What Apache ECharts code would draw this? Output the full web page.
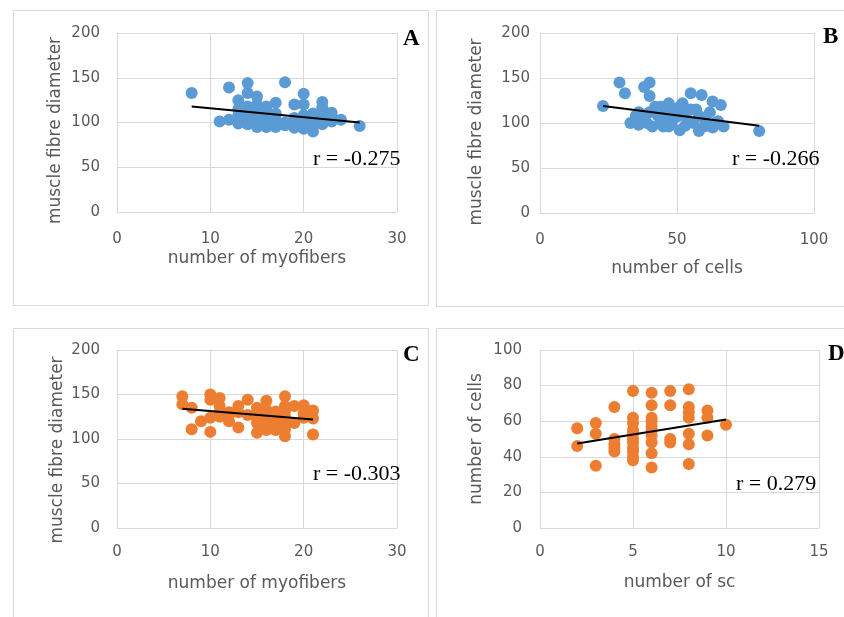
<!DOCTYPE html>
<html>
<head>
<meta charset="utf-8">
<title>scatter panels</title>
<script src="https://cdn.jsdelivr.net/npm/echarts@6/dist/echarts.min.js"></script>
<style>
	html,body{margin:0;padding:0;background:#fff;}
	#main{width:844px;height:617px;}
</style>
</head>
<body>
<div id="main"></div>
<script>
	// A: myofibers vs fibre diameter (blue)
	var pointsA = [[8,133],[11,101],[12,103],[12,139],[13,99],[13,125],[13,115],[13,108],[14,144],[14,133],[14,118],[14,110],[14,103],[14,98],[15,129],[15,120],[15,112],[15,105],[15,95],[16,118],[16,112],[16,106],[16,102],[16,95],[17,122],[17,110],[17,103],[17,95],[18,145],[18,100],[18,97],[19,120],[19,105],[19,100],[19,94],[20,132],[20,120],[20,108],[20,100],[20,93],[21,110],[21,104],[21,98],[21,90],[22,123],[22,117],[22,108],[22,103],[22,98],[23,111],[23,105],[23,101],[24,103],[26,96]];
	var trendA = [[8,118],[26,100]];

	// B: cells vs fibre diameter (blue)
	var pointsB = [[23,119],[29,145],[31,133],[33,100],[35,108],[36,98],[36,112],[37,110],[38,140],[38,105],[39,100],[40,145],[40,130],[40,112],[41,96],[42,118],[43,108],[44,118],[44,100],[45,96],[45,103],[46,112],[47,122],[47,104],[47,96],[48,100],[49,115],[50,107],[51,92],[51,118],[52,122],[53,110],[53,97],[54,103],[55,133],[55,115],[56,100],[57,115],[58,91],[58,108],[59,131],[60,105],[60,96],[61,98],[62,112],[63,124],[63,95],[64,100],[65,102],[66,120],[67,96],[80,91]];
	var trendB = [[23,119],[80,97]];

	// C: myofibers vs fibre diameter (orange)
	var pointsC = [[7,148],[7,139],[8,135],[8,111],[9,120],[10,150],[10,144],[10,124],[10,108],[11,146],[11,137],[11,130],[11,125],[12,130],[12,127],[12,120],[13,137],[13,130],[13,113],[14,144],[14,127],[15,135],[15,130],[15,124],[15,118],[15,107],[16,143],[16,133],[16,129],[16,125],[16,120],[16,113],[16,110],[17,131],[17,125],[17,120],[17,118],[17,115],[17,110],[18,148],[18,137],[18,131],[18,125],[18,120],[18,111],[18,103],[19,137],[19,118],[20,138],[20,129],[20,124],[21,132],[21,123],[21,105]];
	var trendC = [[7,134],[21,122]];

	// D: sc vs cells (orange)
	var pointsD = [[2,56],[2,46],[3,59],[3,53],[3,35],[4,68],[4,50],[4,47],[4,45],[4,43],[5,77],[5,62],[5,59],[5,55],[5,53],[5,50],[5,48],[5,45],[5,43],[5,40],[5,38],[6,76],[6,69],[6,62],[6,60],[6,57],[6,55],[6,52],[6,48],[6,42],[6,34],[7,77],[7,69],[7,50],[7,48],[8,78],[8,68],[8,65],[8,62],[8,53],[8,47],[8,36],[9,66],[9,62],[9,52],[10,58]];
	var trendD = [[2,47.5],[10,61]];

	var rLabels = ['r = -0.275', 'r = -0.266', 'r = -0.303', 'r = 0.279'];
	var panelLetters = ['A', 'B', 'C', 'D'];
	var xNames = ['number of myofibers', 'number of cells', 'number of myofibers', 'number of sc'];
	var yNames = ['muscle fibre diameter', 'muscle fibre diameter', 'muscle fibre diameter', 'number of cells'];
	var xMax = [30, 100, 30, 15];
	var xStep = [10, 50, 10, 5];
	var yMax = [200, 200, 200, 100];
	var yStep = [50, 50, 50, 20];

	var blue = '#5b9bd5';
	var orange = '#ed7d31';
	var grey = '#595959';
	var gridLine = '#d9d9d9';

	// plot areas and per-panel label offsets
	var grids = [
		{left: 117, top: 33, width: 280, height: 179},
		{left: 540, top: 33, width: 274, height: 180},
		{left: 117, top: 350, width: 280, height: 178},
		{left: 540, top: 350, width: 279, height: 178}
	];
	var yLabelMargin = [17, 10, 17, 18];
	var xLabelMargin = [20, 20, 17, 17];
	var xNameGap = [38, 47, 47, 46];
	var yNameGap = [53, 55, 51, 55];
	var yNameShift = [8, 9, 11, 0];

	var xAxes = [], yAxes = [], series = [];
	var allPoints = [pointsA, pointsB, pointsC, pointsD];
	var allTrends = [trendA, trendB, trendC, trendD];
	var colors = [blue, blue, orange, orange];

	for (let i = 0; i < 4; i++) {
		xAxes.push({
			type: 'value', gridIndex: i, min: 0, max: xMax[i], interval: xStep[i],
			name: xNames[i], nameLocation: 'middle', nameGap: xNameGap[i],
			nameTextStyle: {color: grey, fontFamily: 'DejaVu Sans', fontSize: 17},
			axisLine: {show: true, lineStyle: {color: gridLine}},
			axisTick: {show: false},
			axisLabel: {color: grey, fontFamily: 'DejaVu Sans', fontSize: 15, margin: xLabelMargin[i]},
			splitLine: {show: true, lineStyle: {color: gridLine, width: 1}}
		});
		yAxes.push({
			type: 'value', gridIndex: i, min: 0, max: yMax[i], interval: yStep[i],
			name: yNames[i], nameLocation: 'middle', nameGap: yNameGap[i],
			nameTextStyle: {color: grey, fontFamily: 'DejaVu Sans', fontSize: 17,
				padding: [0, yNameShift[i] * 2, 0, 0]},
			axisLine: {show: true, lineStyle: {color: gridLine}},
			axisTick: {show: false},
			axisLabel: {color: grey, fontFamily: 'DejaVu Sans', fontSize: 15, margin: yLabelMargin[i]},
			splitLine: {show: true, lineStyle: {color: gridLine, width: 1}}
		});
		series.push({
			type: 'scatter', xAxisIndex: i, yAxisIndex: i,
			data: allPoints[i], symbolSize: 12,
			itemStyle: {color: colors[i], opacity: 1},
			z: 2
		});
		series.push({
			type: 'line', xAxisIndex: i, yAxisIndex: i,
			data: allTrends[i], symbol: 'none',
			lineStyle: {color: '#000', width: 2},
			z: 3
		});
	}

	// frames, r values and panel letters
	var frames = [[13.5, 10.5, 415, 295], [436.5, 10.5, 420, 296], [13.5, 328.5, 415, 300], [436.5, 328.5, 420, 300]];
	var rPos = [[313, 159], [732, 159], [313, 474], [736, 484]];
	var letterPos = [[403, 39], [823, 37], [403, 355], [828, 354]];
	var graphics = [];
	for (let i = 0; i < 4; i++) {
		graphics.push({
			type: 'rect', silent: true, z: -1,
			shape: {x: frames[i][0], y: frames[i][1], width: frames[i][2], height: frames[i][3]},
			style: {fill: null, stroke: gridLine, lineWidth: 1}
		});
		graphics.push({
			type: 'text', x: rPos[i][0], y: rPos[i][1], z: 10,
			style: {text: rLabels[i], fill: '#000', font: '22px "Liberation Serif"', verticalAlign: 'middle'}
		});
		graphics.push({
			type: 'text', x: letterPos[i][0], y: letterPos[i][1], z: 10,
			style: {text: panelLetters[i], fill: '#000', font: 'bold 23px "Liberation Serif"', verticalAlign: 'middle'}
		});
	}

	var chart = echarts.init(document.getElementById('main'));
	chart.setOption({
		backgroundColor: '#fff',
		animation: false,
		grid: grids,
		xAxis: xAxes,
		yAxis: yAxes,
		series: series,
		graphic: graphics
	});
</script>
</body>
</html>
